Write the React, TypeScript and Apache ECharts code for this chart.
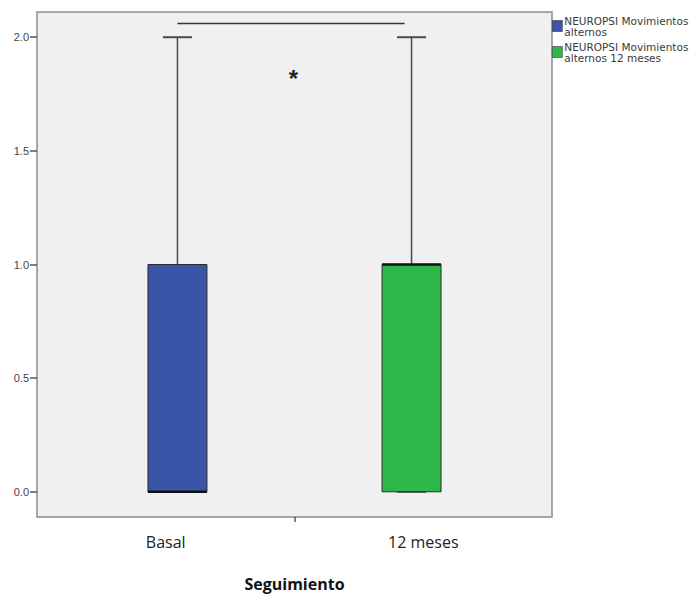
import React, { useEffect, useRef } from "react";
import * as echarts from "echarts";

// Follow-up groups and their five-number summaries
const groups = ["Basal", "12 meses"];
const seriesNames = [
  "NEUROPSI Movimientos\nalternos",
  "NEUROPSI Movimientos\nalternos 12 meses",
];
const groupPositions = [0, 1];
const minValues = [0, 0];
const q1Values = [0, 0];
const medianValues = [0, 1];
const q3Values = [1, 1];
const maxValues = [2, 2];
const boxColors = ["#3a55a8", "#2eb84b"];

// Y axis ticks
const yTicks = [0, 0.5, 1, 1.5, 2];

// Significance bracket between the two groups
const bracketSpan = [0, 0.97];
const bracketLevel = 2.06;
const starLevel = 1.82;

const BOX_WIDTH = 0.252;
const CAP_WIDTH = 0.124;

const renderBox = (params: any, api: any) => {
  const x = api.value(0);
  const lo = api.value(1);
  const q1 = api.value(2);
  const med = api.value(3);
  const q3 = api.value(4);
  const hi = api.value(5);
  const halfW = api.size([BOX_WIDTH, 0])[0] / 2;
  const capHalf = api.size([CAP_WIDTH, 0])[0] / 2;
  const cx = api.coord([x, hi])[0];
  const yHi = api.coord([x, hi])[1];
  const yQ3 = api.coord([x, q3])[1];
  const yMed = api.coord([x, med])[1];
  const yQ1 = api.coord([x, q1])[1];
  const yLo = api.coord([x, lo])[1];
  const whisker = { stroke: "#4a4a4a", lineWidth: 1.5 };
  return {
    type: "group",
    children: [
      { type: "line", shape: { x1: cx, y1: yHi, x2: cx, y2: yQ3 }, style: whisker },
      { type: "line", shape: { x1: cx - capHalf, y1: yHi, x2: cx + capHalf, y2: yHi }, style: { stroke: "#4a4a4a", lineWidth: 2 } },
      { type: "line", shape: { x1: cx, y1: yQ1, x2: cx, y2: yLo }, style: whisker },
      { type: "line", shape: { x1: cx - capHalf, y1: yLo, x2: cx + capHalf, y2: yLo }, style: { stroke: "#4a4a4a", lineWidth: 2 } },
      {
        type: "rect",
        shape: { x: cx - halfW, y: yQ3, width: halfW * 2, height: yQ1 - yQ3 },
        style: { fill: api.visual("color"), stroke: "#2b2b2b", lineWidth: 1 },
      },
      { type: "line", shape: { x1: cx - halfW, y1: yMed, x2: cx + halfW, y2: yMed }, style: { stroke: "#111", lineWidth: 2.5 } },
    ],
  };
};

const renderBracket = (params: any, api: any) => {
  const p1 = api.coord([api.value(0), api.value(2)]);
  const p2 = api.coord([api.value(1), api.value(2)]);
  const star = api.coord([(api.value(0) + api.value(1)) / 2 + 0.01, api.value(3)]);
  return {
    type: "group",
    children: [
      { type: "line", shape: { x1: p1[0], y1: p1[1], x2: p2[0], y2: p2[1] }, style: { stroke: "#333", lineWidth: 1.5 } },
      {
        type: "text",
        x: star[0],
        y: star[1],
        style: {
          text: "*",
          fill: "#222",
          font: "bold 24px 'Liberation Sans', Arial, sans-serif",
          align: "center",
          verticalAlign: "middle",
        },
      },
    ],
  };
};

export default function App() {
  const ref = useRef<HTMLDivElement>(null);

  useEffect(() => {
    if (!ref.current) return;
    const chart = echarts.init(ref.current, null, { renderer: "svg" });

    const boxSeries = groups.map((g, i) => ({
      type: "custom",
      name: seriesNames[i],
      xAxisIndex: 0,
      yAxisIndex: 0,
      itemStyle: { color: boxColors[i] },
      renderItem: renderBox,
      encode: { x: 0, y: [1, 2, 3, 4, 5] },
      data: [[groupPositions[i], minValues[i], q1Values[i], medianValues[i], q3Values[i], maxValues[i]]],
      z: 3,
    }));

    chart.setOption({
      animation: false,
      backgroundColor: "#ffffff",
      grid: {
        left: 37,
        right: 146,
        top: 12,
        bottom: 78,
        outerBoundsMode: "none",
        containLabel: false,
        show: true,
        backgroundColor: "#f0f0f0",
        borderColor: "#8c8c8c",
        borderWidth: 1.5,
      },
      legend: {
        orient: "vertical",
        left: 552,
        top: 15,
        itemGap: 4,
        itemWidth: 10,
        itemHeight: 11,
        icon: "rect",
        data: seriesNames.map((n, i) => ({
          name: n,
          itemStyle: { color: boxColors[i], borderColor: "#333", borderWidth: 0.6 },
        })),
        textStyle: {
          fontFamily: "'DejaVu Sans', sans-serif",
          fontSize: 10.5,
          lineHeight: 11,
          color: "#3a3a3a",
          padding: [0, 0, 0, -3],
        },
        padding: 0,
        selectedMode: false,
      },
      xAxis: [
        {
          type: "value",
          min: -0.6,
          max: 1.6,
          axisLine: { show: false, onZero: false },
          splitLine: { show: false },
          axisLabel: { show: false },
          axisTick: {
            show: true,
            customValues: [0.5],
            length: 5,
            lineStyle: { color: "#555", width: 1.5 },
          },
        },
        {
          type: "category",
          data: groups,
          position: "bottom",
          axisLine: { show: false, onZero: false },
          axisTick: { show: false },
          axisLabel: {
            margin: 17,
            fontFamily: "'Open Sans', sans-serif",
            fontSize: 16,
            color: "#222",
          },
          name: "Seguimiento",
          nameLocation: "middle",
          nameGap: 59,
          nameTextStyle: {
            fontFamily: "'Open Sans', sans-serif",
            fontSize: 16,
            fontWeight: "bold",
            color: "#111",
          },
        },
      ],
      yAxis: {
        type: "value",
        min: -0.111,
        max: 2.111,
        axisLine: { show: false, onZero: false },
        splitLine: { show: false },
        axisTick: {
          show: true,
          customValues: yTicks,
          length: 7,
          lineStyle: { color: "#555", width: 1.5 },
        },
        axisLabel: {
          customValues: yTicks,
          formatter: (v: number) => v.toFixed(1),
          margin: 8,
          fontFamily: "'Liberation Sans', Arial, sans-serif",
          fontSize: 11,
          color: "#444",
        },
      },
      series: [
        ...boxSeries,
        {
          type: "custom",
          xAxisIndex: 0,
          yAxisIndex: 0,
          renderItem: renderBracket,
          encode: { x: [0, 1], y: [2, 3] },
          data: [[bracketSpan[0], bracketSpan[1], bracketLevel, starLevel]],
          z: 4,
          silent: true,
        },
      ],
    });

    return () => chart.dispose();
  }, []);

  return (
    <div
      ref={ref}
      style={{ position: "absolute", left: 0, top: 0, width: 698, height: 595 }}
    />
  );
}
